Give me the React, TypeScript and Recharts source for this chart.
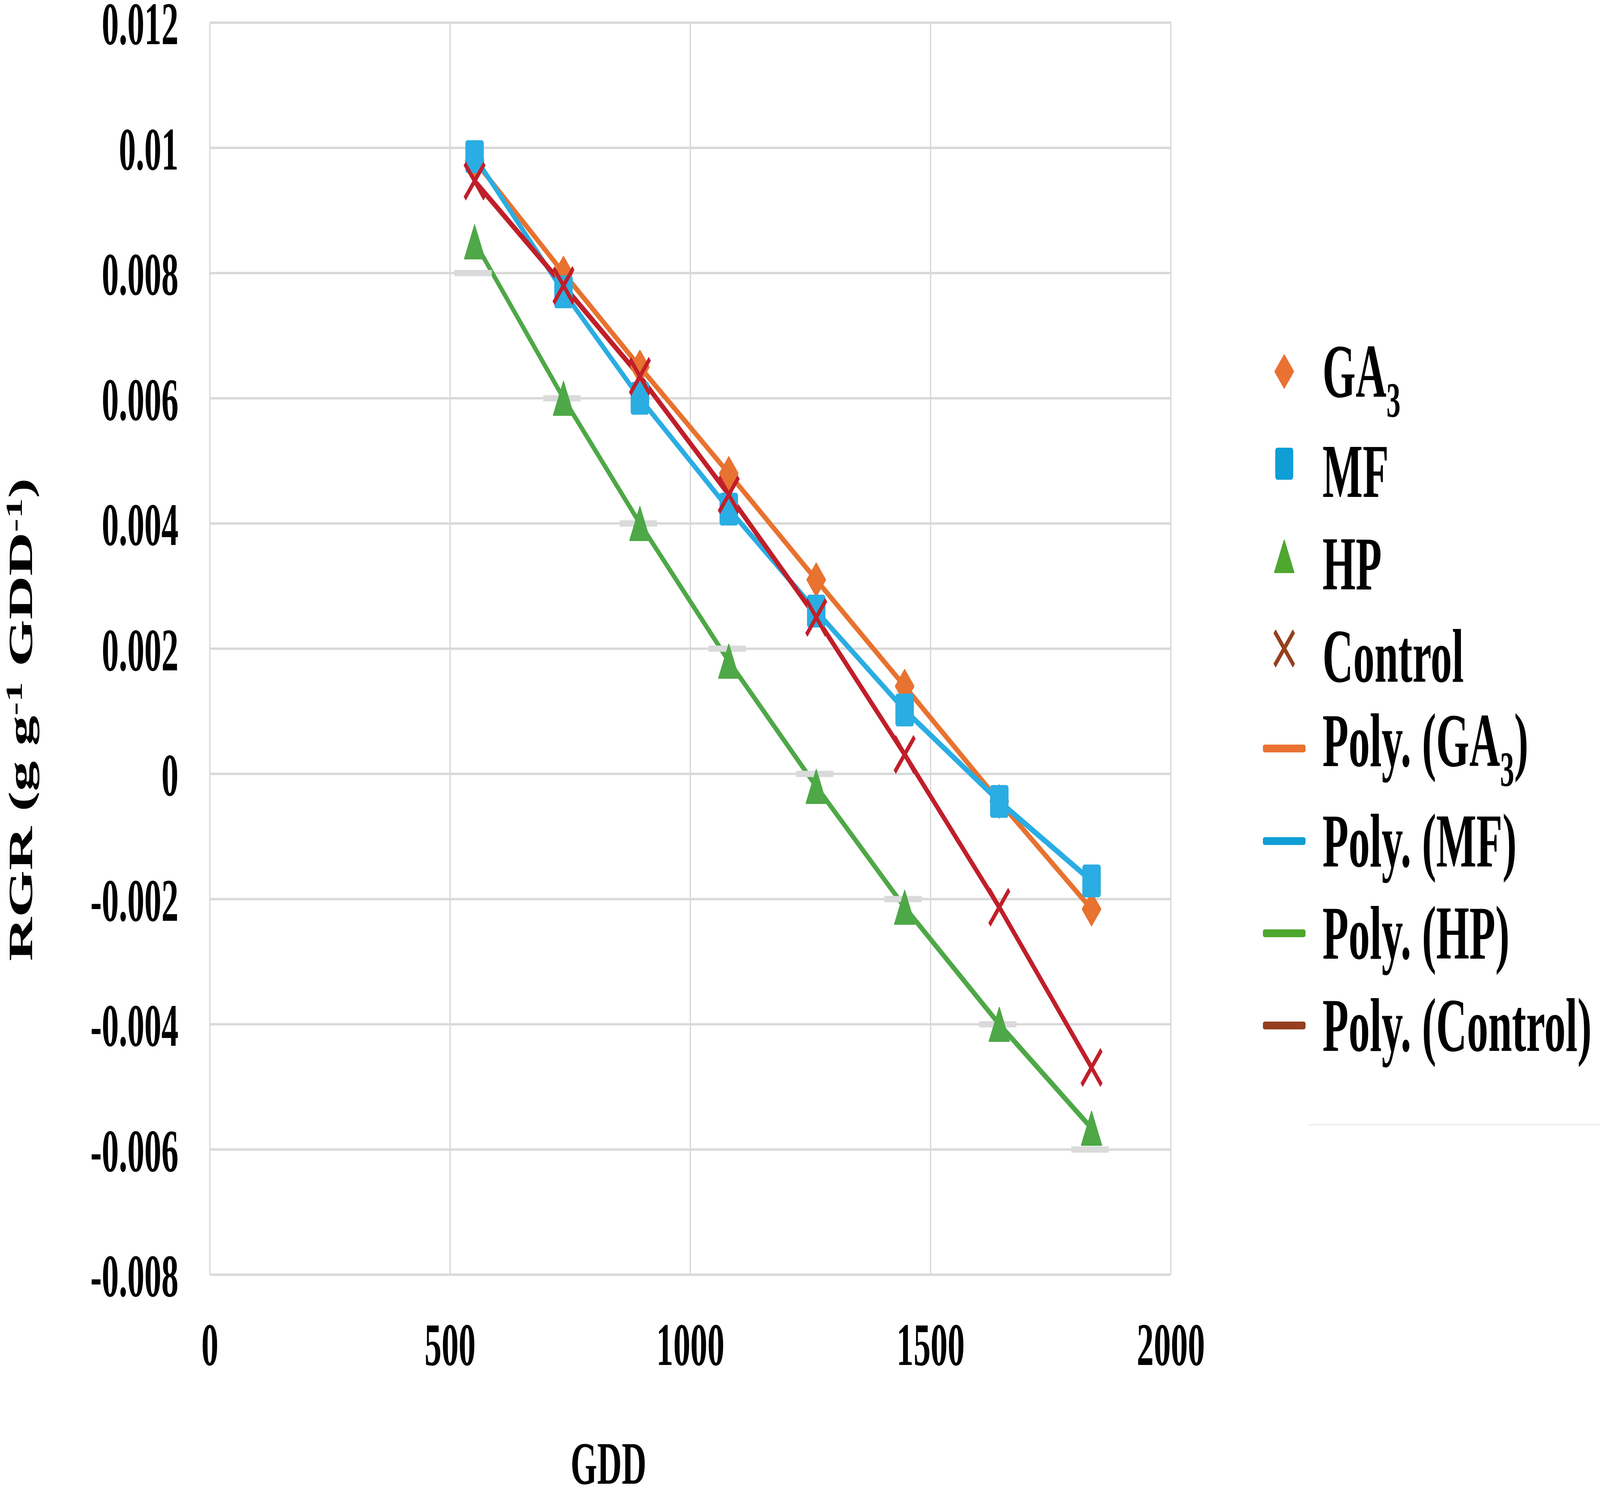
import { CartesianGrid, ComposedChart, Label, Legend, Line, XAxis, YAxis } from "recharts";

// GDD at each sampling point
const gdd = [551, 736, 895, 1080, 1262, 1446, 1643, 1835];

// RGR (g g-1 GDD-1) per treatment
const ga3 = [0.0098, 0.008, 0.0065, 0.0048, 0.0031, 0.0014, -0.00044, -0.00216];
const mf = [0.00986, 0.0077, 0.006, 0.00423, 0.0026, 0.00102, -0.00044, -0.00171];
const hp = [0.0085, 0.006, 0.004, 0.0018, -0.0002, -0.00213, -0.004, -0.00566];
const control = [0.00947, 0.0078, 0.00635, 0.00446, 0.0025, 0.00031, -0.00213, -0.00469];

// faint grey dashes sitting under the HP markers
const hpGuide = [0.008, 0.006, 0.004, 0.002, 0, -0.002, -0.004, -0.006];

const xTicks = [0, 500, 1000, 1500, 2000];
const yTicks = [0.012, 0.01, 0.008, 0.006, 0.004, 0.002, 0, -0.002, -0.004, -0.006, -0.008];
const yTickLabels = ["0.012", "0.01", "0.008", "0.006", "0.004", "0.002", "0", "-0.002", "-0.004", "-0.006", "-0.008"];

const rows = gdd.map((x, i) => ({
  gdd: x,
  ga3: ga3[i],
  mf: mf[i],
  hp: hp[i],
  control: control[i],
  hpGuide: hpGuide[i],
}));

const W = 7281;
const H = 3832;

const FONT = '"Liberation Serif", "Times New Roman", serif';
const TICK = { fill: "#000", fontSize: 155, fontWeight: 700, fontFamily: FONT };

const PLOT = {
  ga3: "#E8722F",
  mf: "#2AADE3",
  hp: "#4EA847",
  control: "#C01F2A",
};

const legendItems = [
  { label: "GA", sub: "3", tail: "", symbol: "diamond", color: "#E97132" },
  { label: "MF", sub: "", tail: "", symbol: "square", color: "#0F9ED5" },
  { label: "HP", sub: "", tail: "", symbol: "triangle", color: "#4EA72E" },
  { label: "Control", sub: "", tail: "", symbol: "cross", color: "#953F1F" },
  { label: "Poly. (GA", sub: "3", tail: ")", symbol: "line", color: "#E97132" },
  { label: "Poly. (MF)", sub: "", tail: "", symbol: "line", color: "#0F9ED5" },
  { label: "Poly. (HP)", sub: "", tail: "", symbol: "line", color: "#4EA72E" },
  { label: "Poly. (Control)", sub: "", tail: "", symbol: "line", color: "#953F1F" },
];

function Marker({ kind, cx, cy, color, size }: { kind: string; cx: number; cy: number; color: string; size: number }) {
  const h = size / 2;
  if (kind === "diamond") {
    return (
      <path
        d={`M${cx},${cy - h}L${cx + h},${cy}L${cx},${cy + h}L${cx - h},${cy}Z`}
        fill={color}
        stroke={color}
        strokeWidth={6}
        strokeLinejoin="round"
      />
    );
  }
  if (kind === "square") {
    return <rect x={cx - h} y={cy - h} width={size} height={size} rx={9} fill={color} />;
  }
  if (kind === "triangle") {
    return (
      <path
        d={`M${cx},${cy - h}L${cx + h + 3},${cy + h}L${cx - h - 3},${cy + h}Z`}
        fill={color}
        stroke={color}
        strokeWidth={4}
        strokeLinejoin="round"
      />
    );
  }
  if (kind === "cross") {
    return (
      <g stroke={color} strokeWidth={14}>
        <line x1={cx - h} y1={cy - h} x2={cx + h} y2={cy + h} />
        <line x1={cx - h} y1={cy + h} x2={cx + h} y2={cy - h} />
      </g>
    );
  }
  return null;
}

const dotOf = (kind: string, color: string, size: number) => (props: any) => (
  <Marker key={`${kind}-${props.index}`} kind={kind} cx={props.cx} cy={props.cy} color={color} size={size} />
);

const guideDot = (props: any) => (
  <rect key={`guide-${props.index}`} x={props.cx - 92} y={props.cy - 8} width={170} height={16} fill="#DADADA" />
);

function LegendBox() {
  return (
    <div style={{ position: "relative", fontFamily: FONT, fontWeight: 700, fontSize: 194, color: "#000" }}>
      {legendItems.map((item) => (
        <div key={item.label} style={{ display: "flex", alignItems: "center", height: 236.3 }}>
          <svg width={194} height={236} style={{ flex: "none", display: "block" }}>
            {item.symbol === "line" ? (
              <line x1={8} y1={118} x2={186} y2={118} stroke={item.color} strokeWidth={20} strokeLinecap="round" />
            ) : (
              <Marker kind={item.symbol} cx={97} cy={98} color={item.color} size={item.symbol === "cross" ? 88 : 82} />
            )}
          </svg>
          <span style={{ marginLeft: 77, lineHeight: 1, whiteSpace: "nowrap" }}>
            {item.label}
            {item.sub && <span style={{ fontSize: "0.66em", verticalAlign: "-0.4em" }}>{item.sub}</span>}
            {item.tail}
          </span>
        </div>
      ))}
      <div style={{ position: "absolute", left: 207, top: 2024, width: 1327, height: 4, background: "#EEEEEE" }} />
    </div>
  );
}

const RgrTitle = () => (
  <text x={146} y={1842} transform="rotate(-90 146 1842)" textAnchor="middle" {...TICK}>
    RGR (g g
    <tspan dy={-46} fontSize={104}>
      -1
    </tspan>
    <tspan dy={46}> GDD</tspan>
    <tspan dy={-46} fontSize={104}>
      -1
    </tspan>
    <tspan dy={46}>)</tspan>
  </text>
);

const GddTitle = () => (
  <text x={2769} y={3798} textAnchor="middle" {...TICK}>
    GDD
  </text>
);

export default function App() {
  // the browser window may be narrower than the chart; squeeze the whole figure to fit it
  const sx = Math.min(1, window.innerWidth / W);
  const sy = Math.min(1, window.innerHeight / H);
  return (
    <div style={{ width: W * sx, height: H * sy, overflow: "hidden", background: "#fff" }}>
      <style>{"body{margin:0;overflow:hidden}"}</style>
      <div style={{ width: W, height: H, transform: `scale(${sx}, ${sy})`, transformOrigin: "0 0" }}>
        <ComposedChart width={W} height={H} data={rows} margin={{ top: 58, right: 1953, bottom: 269, left: 0 }}>
          <CartesianGrid stroke="#D9D9D9" strokeWidth={6} />
          <XAxis
            type="number"
            dataKey="gdd"
            domain={[0, 2000]}
            ticks={xTicks}
            interval={0}
            axisLine={false}
            tickLine={false}
            tickSize={0}
            tickMargin={121}
            height={300}
            tick={TICK}
          >
            <Label content={GddTitle} />
          </XAxis>
          <YAxis
            type="number"
            domain={[-0.008, 0.012]}
            ticks={yTicks}
            interval={0}
            allowDataOverflow
            axisLine={false}
            tickLine={false}
            tickSize={0}
            tickMargin={143}
            width={955}
            tick={TICK}
            tickFormatter={(v: number) => yTickLabels[yTicks.findIndex((t) => Math.abs(t - v) < 1e-9)] ?? String(v)}
          >
            <Label content={RgrTitle} />
          </YAxis>
          <Legend
            layout="horizontal"
            verticalAlign="middle"
            align="center"
            content={<LegendBox />}
            wrapperStyle={{ left: 5747, top: 853, width: 1534, height: 2100 }}
          />
          <Line dataKey="hpGuide" stroke="none" dot={guideDot} activeDot={false} legendType="none" isAnimationActive={false} />
          <Line dataKey="ga3" type="linear" stroke={PLOT.ga3} strokeWidth={16} dot={dotOf("diamond", PLOT.ga3, 82)} activeDot={false} isAnimationActive={false} />
          <Line dataKey="mf" type="linear" stroke={PLOT.mf} strokeWidth={16} dot={dotOf("square", PLOT.mf, 84)} activeDot={false} isAnimationActive={false} />
          <Line dataKey="hp" type="linear" stroke={PLOT.hp} strokeWidth={16} dot={dotOf("triangle", PLOT.hp, 86)} activeDot={false} isAnimationActive={false} />
          <Line dataKey="control" type="linear" stroke={PLOT.control} strokeWidth={16} dot={dotOf("cross", PLOT.control, 90)} activeDot={false} isAnimationActive={false} />
        </ComposedChart>
      </div>
    </div>
  );
}
